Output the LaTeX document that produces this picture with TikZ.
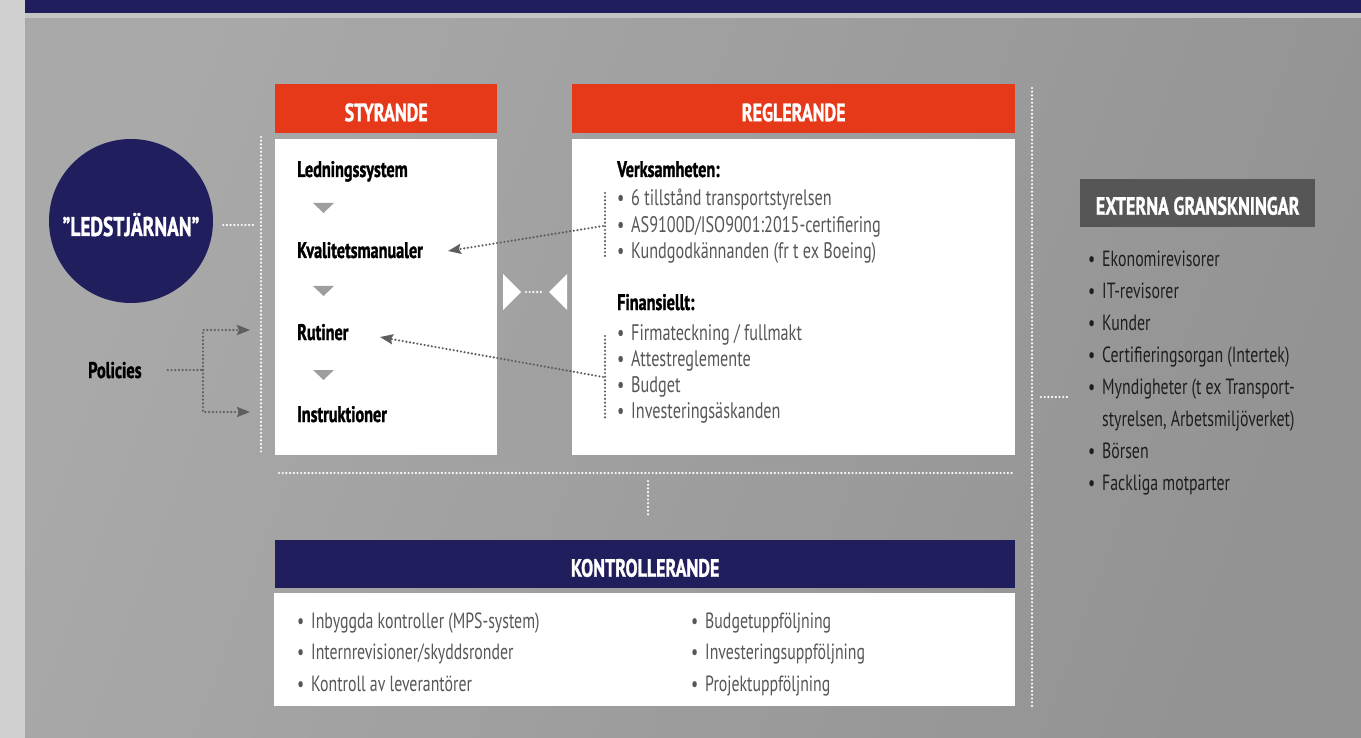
\documentclass[tikz,border=0pt]{standalone}
\usepackage{fontspec}
\setmainfont{PT Sans}[FakeStretch=0.72, BoldFeatures={FakeBold=1.2}]
\usetikzlibrary{arrows.meta}

\definecolor{navy}{HTML}{211E5E}
\definecolor{hdrorange}{HTML}{E5391A}
\definecolor{extgray}{HTML}{565656}
\definecolor{txtgray}{HTML}{575757}
\definecolor{exttxt}{HTML}{1E1E1E}
\definecolor{trigray}{HTML}{9E9E9E}
\definecolor{dotgray}{HTML}{5E5E5E}
\definecolor{bgA}{HTML}{A9A9A9}
\definecolor{bgB}{HTML}{939393}
\definecolor{stripgray}{HTML}{D0D0D0}
\definecolor{linegray}{HTML}{C4C4C4}

\newcommand\hdrfont{\bfseries\fontsize{25}{28}\selectfont}
\newcommand\leadfont{\bfseries\fontsize{22.5}{26}\selectfont}
\newcommand\regfont{\fontsize{22.5}{26.3}\selectfont}
\newcommand\revfont{\fontsize{22}{31.9}\selectfont}
\newcommand\kontfont{\fontsize{22}{31.5}\selectfont}
\newcommand\bl{\makebox[14pt][l]{\textbullet}}

\tikzset{
  hdr/.style={anchor=north west, inner sep=0pt, text=white, font=\hdrfont,
    text height=25pt, text depth=0pt},
  panel/.style={fill=white, anchor=north west, inner sep=0pt},
  lead/.style={anchor=base west, inner sep=0pt, font=\leadfont},
  blist/.style={anchor=base west, inner sep=0pt, text=txtgray},
  wdot/.style={white, line width=2.4pt, dash pattern=on 0pt off 3.7pt, line cap=round},
  gdot/.style={dotgray, line width=2.4pt, dash pattern=on 0pt off 3.7pt, line cap=round},
  tip/.style={-{Stealth[length=13pt,width=10pt,inset=2pt]}}
}

\begin{document}
\begin{tikzpicture}[x=1pt,y=-1pt]
\useasboundingbox (0,0) rectangle (1361,738);
% background
\fill[stripgray] (0,0) rectangle (25,738);
\shade[left color=bgA, right color=bgB, shading angle=70] (25,18) rectangle (1361,738);
\fill[navy] (25,0) rectangle (1361,13);
\fill[linegray] (25,13) rectangle (1361,18);

% ledstjarnan
\node[circle, fill=navy, minimum size=164pt, inner sep=0pt, text=white,
  font=\bfseries\fontsize{27}{30}\selectfont, text height=30pt, text depth=0pt] (star) at (131,221) {”LEDSTJÄRNAN”};
\coordinate (starin) at (255,225);
\draw[wdot, shorten <=10pt] (star.east |- starin) -- (starin);
\draw[wdot] (261,137) -- (261,455);

% policies
\node[lead, font=\bfseries\fontsize{22.7}{25}\selectfont] (pol) at (88,378) {Policies};
\coordinate (polsplit) at (203,370);
\coordinate (poltop) at (250,330);
\coordinate (polbot) at (250,412);
\draw[gdot, shorten <=26pt] (pol.east) -- (polsplit);
\draw[gdot, tip] (polsplit) |- (poltop);
\draw[gdot, tip] (polsplit) |- (polbot);

% styrande
\node[hdr, fill=hdrorange, minimum width=222pt, minimum height=49pt] (styr) at (275,84) {STYRANDE};
\node[panel, minimum width=222pt, minimum height=316pt] (styrbox) at (275,139) {};
\node[lead] (led) at (297,177) {Ledningssystem};
\node[lead] (kval) at (297,258) {Kvalitetsmanualer};
\node[lead] (rut) at (297,340) {Rutiner};
\node[lead] (instr) at (297,422) {Instruktioner};
\foreach \y in {203,286,370}
  \fill[trigray] (313,\y) -- (334,\y) -- (323.5,\y+10) -- cycle;

% between the boxes
\fill[white] (503,274) -- (521,292) -- (503,310) -- cycle;
\fill[white] (567,274) -- (549,292) -- (567,310) -- cycle;
\draw[wdot] (526,292) -- (544,292);

% reglerande
\node[hdr, fill=hdrorange, minimum width=443pt, minimum height=49pt] (regl) at (572,84) {REGLERANDE};
\node[panel, minimum width=443pt, minimum height=316pt] (reglbox) at (572,139) {};
\node[lead] (verk) at (617,177) {Verksamheten:};
\node[blist, font=\regfont] (verklist) at (617,206) {\begin{tabular}[t]{@{}l@{}}
  \bl 6 tillstånd transportstyrelsen\\
  \bl AS9100D/ISO9001:2015-certifiering\\
  \bl Kundgodkännanden (fr t ex Boeing)
  \end{tabular}};
\node[lead] (fin) at (617,310) {Finansiellt:};
\node[blist, font=\regfont] (finlist) at (617,340) {\begin{tabular}[t]{@{}l@{}}
  \bl Firmateckning / fullmakt\\
  \bl Attestreglemente\\
  \bl Budget\\
  \bl Investeringsäskanden
  \end{tabular}};
\draw[gdot] (605,193) -- (605,257);
\draw[gdot] (605,336) -- (605,418);
\coordinate (verkbr) at (603,226);
\coordinate (finbr) at (603,377);
\coordinate (kvaltip) at (448,251);
\coordinate (ruttip) at (380,337);
\draw[gdot, tip] (verkbr) -- (kvaltip);
\draw[gdot, tip] (finbr) -- (ruttip);

% kontrollerande
\draw[wdot] (279,473) -- (1015,473);
\draw[wdot] (648,481) -- (648,515);
\node[hdr, fill=navy, minimum width=740pt, minimum height=48pt] (kont) at (275,540) {KONTROLLERANDE};
\node[panel, minimum width=741pt, minimum height=113pt] (kontbox) at (274,593) {};
\node[blist, font=\kontfont] (kontleft) at (297,628) {\begin{tabular}[t]{@{}l@{}}
  \bl Inbyggda kontroller (MPS-system)\\
  \bl Internrevisioner/skyddsronder\\
  \bl Kontroll av leverantörer
  \end{tabular}};
\node[blist, font=\kontfont] (kontright) at (691,628) {\begin{tabular}[t]{@{}l@{}}
  \bl Budgetuppföljning\\
  \bl Investeringsuppföljning\\
  \bl Projektuppföljning
  \end{tabular}};

% externa granskningar
\draw[wdot] (1032,88) -- (1032,707);
\draw[wdot] (1041,397) -- (1070,397);
\node[hdr, fill=extgray, minimum width=235pt, minimum height=48pt,
  text height=23pt] (ext) at (1080,179) {EXTERNA GRANSKNINGAR};
\node[blist, text=exttxt, font=\revfont] (extlist) at (1088,267) {\begin{tabular}[t]{@{}l@{}}
  \bl Ekonomirevisorer\\
  \bl IT-revisorer\\
  \bl Kunder\\
  \bl Certifieringsorgan (Intertek)\\
  \bl Myndigheter (t ex Transport-\\
  \hspace{14pt}styrelsen, Arbetsmiljöverket)\\
  \bl Börsen\\
  \bl Fackliga motparter
  \end{tabular}};
\end{tikzpicture}
\end{document}
